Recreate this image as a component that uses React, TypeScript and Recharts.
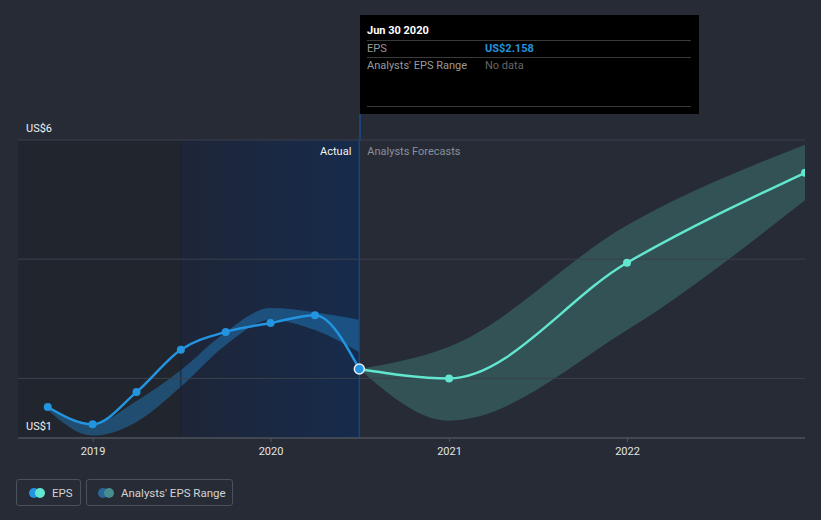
import {
  Area,
  ComposedChart,
  Line,
  ReferenceArea,
  ReferenceLine,
  XAxis,
  YAxis,
} from "recharts";

// quarterly reported EPS (US$)
const actualDates = [
  "2018-09-30",
  "2018-12-31",
  "2019-03-31",
  "2019-06-30",
  "2019-09-30",
  "2019-12-31",
  "2020-03-31",
  "2020-06-30",
];
const actualEps = [1.52, 1.23, 1.77, 2.48, 2.78, 2.93, 3.06, 2.158];
const actualRangeLow = [1.47, 1.04, 1.27, 1.86, 2.56, 2.98, 2.81, 2.44];
const actualRangeHigh = [1.52, 1.24, 1.62, 2.14, 2.78, 3.18, 3.11, 2.98];

// analysts' forecasts
const forecastDates = ["2020-06-30", "2020-12-31", "2021-12-31", "2022-12-31"];
const forecastEps = [2.158, 2.0, 3.94, 5.45];
const forecastLow = [2.158, 1.29, 2.81, 4.99];
const forecastHigh = [2.158, 2.53, 4.57, 5.92];

const yearTicks = ["2019-01-01", "2020-01-01", "2021-01-01", "2022-01-01"];
const yTicks = [1, 2, 4, 6];
const yLabelTicks = [1, 6];

const domainStart = "2018-07-31";
const domainEnd = "2022-12-31";
const pastShadeEnd = "2019-06-30";
const selectedDate = "2020-06-30";

const toTime = (d: string) => Date.parse(d + "T00:00:00Z");

type Row = {
  t: number;
  eps?: number;
  epsForecast?: number;
  actualRange?: [number, number];
  forecastRange?: [number, number];
};

function buildRows(): Row[] {
  const map = new Map<number, Row>();
  const get = (d: string) => {
    const t = toTime(d);
    if (!map.has(t)) map.set(t, { t });
    return map.get(t)!;
  };
  actualDates.forEach((d, i) => {
    const r = get(d);
    r.eps = actualEps[i];
    r.actualRange = [actualRangeLow[i], actualRangeHigh[i]];
  });
  forecastDates.forEach((d, i) => {
    const r = get(d);
    r.epsForecast = forecastEps[i];
    r.forecastRange = [forecastLow[i], forecastHigh[i]];
  });
  return Array.from(map.values()).sort((a, b) => a.t - b.t);
}

const rows = buildRows();

const blue = "#2394df";
const mint = "#62e6cf";
const font = "Roboto, 'Open Sans', sans-serif";

function EpsDot(props: any) {
  const { cx, cy, payload, index } = props;
  if (cx == null || cy == null || payload?.eps == null) {
    return <g key={`d-${index}`} />;
  }
  if (payload.t === toTime(selectedDate)) {
    return <circle key={`d-${index}`} cx={cx} cy={cy} r={5} fill={blue} stroke="#e8eef5" strokeWidth={1.5} />;
  }
  return <circle key={`d-${index}`} cx={cx} cy={cy} r={4} fill={blue} />;
}

function DividerLabel(props: any) {
  const vb = props.viewBox ?? {};
  const x = vb.x ?? 0;
  const y = (vb.y ?? 0) + 15;
  return (
    <g fontFamily={font} fontSize={11}>
      <text x={x - 8} y={y} textAnchor="end" fill="#f2f2f2">
        Actual
      </text>
      <text x={x + 8} y={y} textAnchor="start" fill="#8b9099">
        Analysts Forecasts
      </text>
    </g>
  );
}

function LegendDots({ a, b }: { a: string; b: string }) {
  return (
    <svg width={18} height={12} style={{ display: "block" }}>
      <circle cx={6} cy={6} r={5} fill={a} />
      <circle cx={12} cy={6} r={5} fill={b} />
    </svg>
  );
}

const legendBox = {
  position: "absolute" as const,
  top: 479,
  height: 25,
  border: "1px solid #4b515b",
  borderRadius: 3,
  display: "flex",
  alignItems: "center",
  fontSize: 11.5,
  color: "#d4d4d4",
};

export default function App() {
  return (
    <div
      style={{
        position: "absolute",
        left: 0,
        top: 0,
        width: 821,
        height: 520,
        background: "#262b36",
        fontFamily: font,
        overflow: "hidden",
      }}
    >
      <ComposedChart
        width={821}
        height={520}
        data={rows}
        margin={{ top: 140, right: 16, bottom: 52, left: 18 }}
      >
        <defs>
          <linearGradient id="pastYear" x1="0" y1="0" x2="1" y2="0">
            <stop offset="0%" stopColor="#1e2537" />
            <stop offset="100%" stopColor="#162b4c" />
          </linearGradient>
        </defs>
        <XAxis
          dataKey="t"
          type="number"
          domain={[toTime(domainStart), toTime(domainEnd)]}
          ticks={yearTicks.map(toTime)}
          tickFormatter={(v: number) => String(new Date(v).getUTCFullYear())}
          allowDataOverflow
          axisLine={{ stroke: "#4c525d" }}
          tickLine={{ stroke: "#4c525d" }}
          tickSize={4}
          tickMargin={5}
          tick={{ fill: "#e4e4e4", fontSize: 11, fontFamily: font }}
          height={30}
        />
        <YAxis hide type="number" domain={[1, 6]} ticks={yTicks} allowDataOverflow />
        <ReferenceArea
          x1={toTime(domainStart)}
          x2={toTime(pastShadeEnd)}
          y1={1}
          y2={6}
          fill="#21252d"
          fillOpacity={1}
          stroke="none"
        />
        <ReferenceArea
          x1={toTime(pastShadeEnd)}
          x2={toTime(selectedDate)}
          y1={1}
          y2={6}
          fill="url(#pastYear)"
          fillOpacity={1}
          stroke="none"
        />
        <ReferenceLine x={toTime(pastShadeEnd)} stroke="#1c2333" />
        {yTicks.map((v) => (
          <ReferenceLine
            key={v}
            y={v}
            stroke={v === 1 ? "#4c525d" : "#3b414c"}
            label={
              yLabelTicks.includes(v)
                ? {
                    value: `US$${v}`,
                    position: "insideBottomLeft",
                    offset: 8,
                    fill: "#f0f0f0",
                    fontSize: 11,
                    fontFamily: font,
                  }
                : undefined
            }
          />
        ))}
        <ReferenceLine
          x={toTime(selectedDate)}
          stroke="#1e4476"
          strokeWidth={1.5}
          label={(p: any) => <DividerLabel {...p} />}
        />
        <Area
          type="monotone"
          dataKey="actualRange"
          fill={blue}
          fillOpacity={0.38}
          stroke="none"
          isAnimationActive={false}
          activeDot={false}
        />
        <Area
          type="monotone"
          dataKey="forecastRange"
          fill="#5fe0c8"
          fillOpacity={0.22}
          stroke="none"
          isAnimationActive={false}
          activeDot={false}
        />
        <Line
          type="monotone"
          dataKey="epsForecast"
          stroke={mint}
          strokeWidth={2.5}
          dot={{ r: 4, fill: mint, stroke: "none" }}
          isAnimationActive={false}
        />
        <Line
          type="monotone"
          dataKey="eps"
          stroke={blue}
          strokeWidth={2.5}
          dot={EpsDot}
          isAnimationActive={false}
        />
      </ComposedChart>

      {/* cursor line above the plot, up to the tooltip box */}
      <div
        style={{
          position: "absolute",
          left: 359,
          top: 114,
          width: 1.5,
          height: 26,
          background: "#1e4476",
        }}
      />

      {/* tooltip box */}
      <div
        style={{
          position: "absolute",
          left: 360,
          top: 15,
          width: 339,
          height: 99,
          background: "#000",
          fontSize: 11,
        }}
      >
        <div style={{ position: "absolute", left: 7, top: 9, color: "#fff", fontWeight: 700 }}>Jun 30 2020</div>
        <div style={{ position: "absolute", left: 7, right: 8, top: 25, height: 1, background: "#3a3a3a" }} />
        <div style={{ position: "absolute", left: 7, top: 27, color: "#9a9a9a" }}>EPS</div>
        <div style={{ position: "absolute", left: 125, top: 27, color: blue, fontWeight: 700 }}>US$2.158</div>
        <div style={{ position: "absolute", left: 7, right: 8, top: 42, height: 1, background: "#3a3a3a" }} />
        <div style={{ position: "absolute", left: 7, top: 44, color: "#9a9a9a" }}>Analysts' EPS Range</div>
        <div style={{ position: "absolute", left: 125, top: 44, color: "#666" }}>No data</div>
        <div style={{ position: "absolute", left: 7, right: 8, top: 91, height: 1, background: "#3a3a3a" }} />
      </div>

      {/* legend */}
      <div style={{ ...legendBox, left: 16, width: 63 }}>
        <div style={{ marginLeft: 11, marginRight: 6 }}>
          <LegendDots a={blue} b={mint} />
        </div>
        EPS
      </div>
      <div style={{ ...legendBox, left: 86, width: 145 }}>
        <div style={{ marginLeft: 10, marginRight: 6 }}>
          <LegendDots a="#2a6699" b="#468d8d" />
        </div>
        Analysts' EPS Range
      </div>
    </div>
  );
}
